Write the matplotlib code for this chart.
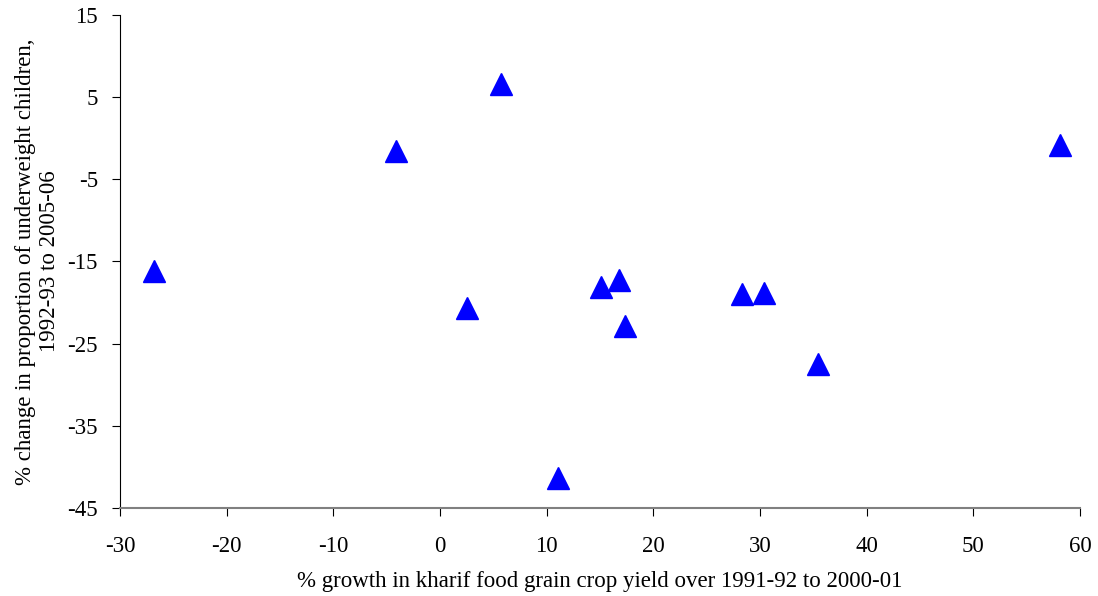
import matplotlib
matplotlib.use("Agg")
import matplotlib.pyplot as plt

plt.rcParams['font.family'] = ['Liberation Serif', 'DejaVu Serif']
plt.rcParams['axes.unicode_minus'] = False

# kharif yield growth (%) vs change in underweight children (%)
yield_growth = [-26.8, -4.1, 2.5, 5.7, 11.1, 15.1, 16.8, 17.3, 28.3, 30.4, 35.4, 58.1]
underweight_change = [-16.1, -1.5, -20.6, 6.6, -41.3, -18.1, -17.2, -22.8, -18.9, -18.8, -27.5, -0.8]

xticks = [-30, -20, -10, 0, 10, 20, 30, 40, 50, 60]
yticks = [-45, -35, -25, -15, -5, 5, 15]

fig = plt.figure(figsize=(10.98, 5.96), dpi=100)
ax = fig.add_axes([0.1093, 0.1477, 0.8743, 0.8271])

ax.plot(yield_growth, underweight_change, linestyle='none', marker='^',
        markersize=16, color='#0000ff')

ax.set_xlim(-30, 60)
ax.set_ylim(-45, 15)
ax.set_xticks(xticks)
ax.set_yticks(yticks)

for s in ['top', 'right']:
    ax.spines[s].set_visible(False)
ax.spines['left'].set_color('black')
ax.spines['bottom'].set_color('#808080')
ax.spines['bottom'].set_linewidth(1.5)
ax.tick_params(axis='both', direction='out', length=6, labelsize=16.5)
ax.tick_params(axis='x', color='black', pad=14)
ax.tick_params(axis='y', pad=10)

ax.set_xlabel('% growth in kharif food grain crop yield over 1991-92 to 2000-01',
              fontsize=16.5, labelpad=10)
ax.set_ylabel('% change in proportion of underweight children,\n1992-93 to 2005-06',
              fontsize=16.5, labelpad=5)

fig.savefig('out.png', dpi=100)
